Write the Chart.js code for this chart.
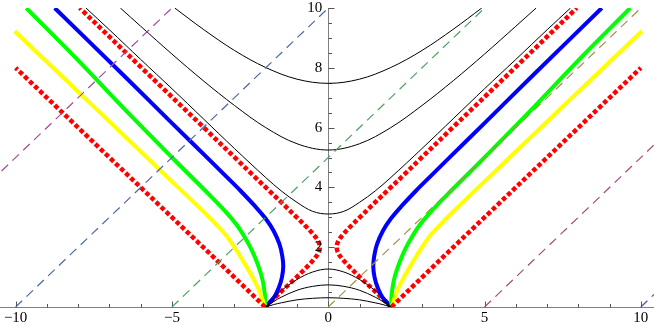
<!DOCTYPE html>
<html>
<head>
<meta charset="utf-8">
<script src="https://cdn.jsdelivr.net/npm/chart.js@4.4.0/dist/chart.umd.min.js"></script>
<style>
  html, body { margin: 0; padding: 0; background: #fff; }
  #wrap { width: 654px; height: 327px; }
</style>
</head>
<body>
<div id="wrap"><canvas id="grafico"></canvas></div>
<script>
// Rótulos dos eixos
const rotulosX = [-10, -5, 0, 5, 10];
const rotulosY = [2, 4, 6, 8, 10];

// Curvas coloridas (lado esquerdo e direito partem de x = -2 e x = 2)
const vermelhaExtY = [0, 2, 4, 6, 8];
const vermelhaExtEsqX = [-2.02, -4, -6, -8, -10];
const vermelhaExtDirX = [2.02, 4, 6, 8, 10];

const amareloY = [0, 0.3, 0.6, 0.9, 1.2, 1.6, 2.0, 2.4, 3.0, 4.0, 5.5, 7.5, 9.22];
const amareloEsqX = [-2.03, -2.12, -2.23, -2.37, -2.53, -2.76, -3.0, -3.27, -3.81, -4.8, -6.3, -8.3, -10.03];
const amareloDirX = [2.03, 2.12, 2.23, 2.37, 2.53, 2.76, 3.0, 3.27, 3.81, 4.8, 6.3, 8.3, 10.03];

const verdeY = [0, 0.3, 0.6, 0.9, 1.2, 1.55, 1.95, 2.35, 2.75, 3.15, 3.75, 4.95, 6.6, 8.25, 10];
const verdeEsqX = [-2.02, -2.02, -2.05, -2.1, -2.18, -2.3, -2.47, -2.68, -2.93, -3.25, -3.8, -4.95, -6.5, -8.0, -9.66];
const verdeDirX = [2.02, 2.02, 2.05, 2.1, 2.18, 2.3, 2.47, 2.68, 2.93, 3.25, 3.8, 4.95, 6.5, 8.0, 9.66];

const azulY = [0, 0.3, 0.65, 1.0, 1.35, 1.7, 2.1, 2.55, 2.95, 3.38, 3.88, 4.4, 4.97, 6.15, 7.7, 10];
const azulEsqX = [-2.03, -1.75, -1.58, -1.48, -1.44, -1.47, -1.56, -1.75, -2.0, -2.35, -2.8, -3.3, -3.85, -5.0, -6.5, -8.75];
const azulDirX = [2.03, 1.75, 1.58, 1.48, 1.44, 1.47, 1.56, 1.75, 2.0, 2.35, 2.8, 3.3, 3.85, 5.0, 6.5, 8.75];

const vermelhaIntY = [0, 0.27, 0.62, 0.96, 1.3, 1.58, 1.8, 2.0, 2.2, 2.42, 2.7, 3.04, 3.45, 3.95, 4.45, 4.93, 6.02, 8.03, 10];
const vermelhaIntEsqX = [-2.02, -1.75, -1.4, -1.05, -0.72, -0.47, -0.32, -0.27, -0.32, -0.47, -0.72, -1.05, -1.45, -1.95, -2.45, -2.92, -4.0, -6.0, -7.95];
const vermelhaIntDirX = [2.02, 1.75, 1.4, 1.05, 0.72, 0.47, 0.32, 0.27, 0.32, 0.47, 0.72, 1.05, 1.45, 1.95, 2.45, 2.92, 4.0, 6.0, 7.95];

// Curvas pretas de cima
const preta1X = [-4.91, -4, -3, -2, -1, 0, 1, 2, 3, 4, 4.91];
const preta1Y = [10, 9.29, 8.58, 8.01, 7.62, 7.48, 7.62, 8.01, 8.58, 9.29, 10];
const preta2X = [-6.65, -6, -5, -4, -3, -2, -1, 0, 1, 2, 3, 4, 5, 6, 6.65];
const preta2Y = [10, 9.39, 8.46, 7.57, 6.74, 6.0, 5.46, 5.25, 5.46, 6.0, 6.74, 7.57, 8.46, 9.39, 10];
const preta3X = [-7.75, -7, -6, -5, -4, -3, -2, -1.5, -1, -0.5, 0, 0.5, 1, 1.5, 2, 3, 4, 5, 6, 7, 7.75];
const preta3Y = [10, 9.27, 8.28, 7.3, 6.3, 5.3, 4.33, 3.88, 3.5, 3.2, 3.11, 3.2, 3.5, 3.88, 4.33, 5.3, 6.3, 7.3, 8.28, 9.27, 10];

// Arcos pretos de baixo, entre x = -2 e x = 2
const arcoX = [-2, -1.75, -1.5, -1, -0.5, 0, 0.5, 1, 1.5, 1.75, 2];
const arco1Y = [0, 0.3, 0.55, 0.92, 1.17, 1.27, 1.17, 0.92, 0.55, 0.3, 0];
const arco2Y = [0, 0.18, 0.33, 0.56, 0.69, 0.74, 0.69, 0.56, 0.33, 0.18, 0];
const arco3Y = [0, 0.08, 0.14, 0.24, 0.29, 0.31, 0.29, 0.24, 0.14, 0.08, 0];

// Retas tracejadas de inclinação 1
const retaAX = [-10.45, -5], retaAY = [4.55, 10];
const retaBX = [-10, 0], retaBY = [0, 10];
const retaCX = [-5, 5], retaCY = [0, 10];
const retaDX = [0, 10], retaDY = [0, 10];
const retaEX = [5, 10.42], retaEY = [0, 5.42];
const retaFX = [10, 10.42], retaFY = [0, 0.42];

// Junta x e y em pontos
function pontos(xs, ys) {
    return xs.map((x, i) => ({ x: x, y: ys[i] }));
}

function linha(xs, ys, cor, largura, tracejado, suave, ordem) {
    return {
        data: pontos(xs, ys),
        showLine: true,
        borderColor: cor,
        borderWidth: largura,
        borderDash: tracejado,
        borderCapStyle: 'butt',
        tension: suave,
        pointRadius: 0,
        fill: false,
        order: ordem
    };
}

const tracoFino = [9, 6];
const tracoGrosso = [4.5, 2.5];

const datasets = [
    linha(retaAX, retaAY, '#a04c98', 1.2, tracoFino, 0, 0),
    linha(retaBX, retaBY, '#4c67a3', 1.2, tracoFino, 0, 0),
    linha(retaCX, retaCY, '#4ca263', 1.2, tracoFino, 0, 0),
    linha(retaDX, retaDY, '#a39347', 1.2, tracoFino, 0, 0),
    linha(retaEX, retaEY, '#a34c7c', 1.2, tracoFino, 0, 0),
    linha(retaFX, retaFY, '#4c4ca3', 1.2, tracoFino, 0, 0),

    linha(preta1X, preta1Y, '#000', 1, [], 0.35, 1),
    linha(preta2X, preta2Y, '#000', 1, [], 0.35, 1),
    linha(preta3X, preta3Y, '#000', 1, [], 0.35, 1),
    linha(arcoX, arco1Y, '#000', 1, [], 0.35, 1),
    linha(arcoX, arco2Y, '#000', 1, [], 0.35, 1),
    linha(arcoX, arco3Y, '#000', 1, [], 0.35, 1),

    linha(vermelhaExtEsqX, vermelhaExtY, '#ff0000', 4.5, tracoGrosso, 0, 2),
    linha(vermelhaExtDirX, vermelhaExtY, '#ff0000', 4.5, tracoGrosso, 0, 2),
    linha(amareloEsqX, amareloY, '#ffff00', 4, [], 0.35, 2),
    linha(amareloDirX, amareloY, '#ffff00', 4, [], 0.35, 2),
    linha(verdeEsqX, verdeY, '#00ff00', 4, [], 0.35, 2),
    linha(verdeDirX, verdeY, '#00ff00', 4, [], 0.35, 2),
    linha(azulEsqX, azulY, '#0000ff', 4, [], 0.35, 2),
    linha(azulDirX, azulY, '#0000ff', 4, [], 0.35, 2),
    linha(vermelhaIntEsqX, vermelhaIntY, '#ff0000', 4.5, tracoGrosso, 0.35, 2),
    linha(vermelhaIntDirX, vermelhaIntY, '#ff0000', 4.5, tracoGrosso, 0.35, 2)
];

// Eixos no estilo do Mathematica: cruzam na origem, marcas para dentro
const eixos = {
    id: 'eixos',
    beforeDatasetsDraw(chart) {
        const { ctx, scales: { x, y } } = chart;
        const x0 = Math.round(x.getPixelForValue(0)) + 0.5;
        const y0 = Math.round(y.getPixelForValue(0)) + 0.5;
        ctx.save();
        ctx.strokeStyle = '#808080';
        ctx.lineWidth = 1;
        ctx.beginPath();
        ctx.moveTo(0, y0);
        ctx.lineTo(chart.width, y0);
        ctx.moveTo(x0, y0);
        ctx.lineTo(x0, y.getPixelForValue(10));
        ctx.stroke();

        ctx.strokeStyle = '#555';
        ctx.beginPath();
        for (let k = -10; k <= 10; k++) {
            const px = Math.round(x.getPixelForValue(k)) + 0.5;
            const len = k % 5 === 0 ? 6 : 3.5;
            ctx.moveTo(px, y0);
            ctx.lineTo(px, y0 - len);
        }
        for (let k = 1; k <= 20; k++) {
            const v = k / 2;
            const py = Math.round(y.getPixelForValue(v)) + 0.5;
            const len = v % 2 === 0 ? 6 : 3.5;
            ctx.moveTo(x0, py);
            ctx.lineTo(x0 + len, py);
        }
        ctx.stroke();
        ctx.restore();
    },
    afterDatasetsDraw(chart) {
        const { ctx, scales: { x, y } } = chart;
        const x0 = x.getPixelForValue(0);
        const y0 = y.getPixelForValue(0);
        ctx.save();
        ctx.fillStyle = '#000';
        ctx.font = '15px "Liberation Serif", "Times New Roman", serif';
        ctx.textBaseline = 'middle';
        ctx.textAlign = 'center';
        rotulosX.forEach(v => {
            const texto = v < 0 ? '\u2212' + Math.abs(v) : String(v);
            ctx.fillText(texto, x.getPixelForValue(v), y0 + 11);
        });
        ctx.textAlign = 'right';
        rotulosY.forEach(v => {
            ctx.fillText(String(v), x0 - 6, y.getPixelForValue(v));
        });
        ctx.restore();
    }
};

new Chart(document.getElementById('grafico'), {
    type: 'scatter',
    data: { datasets: datasets },
    options: {
        responsive: true,
        maintainAspectRatio: false,
        animation: false,
        layout: { padding: { top: 8, bottom: 20, left: 0, right: 0 } },
        plugins: { legend: { display: false }, tooltip: { enabled: false } },
        scales: {
            x: { type: 'linear', min: -10.5, max: 10.42, display: false },
            y: { type: 'linear', min: 0, max: 10, display: false }
        }
    },
    plugins: [eixos]
});
</script>
</body>
</html>
